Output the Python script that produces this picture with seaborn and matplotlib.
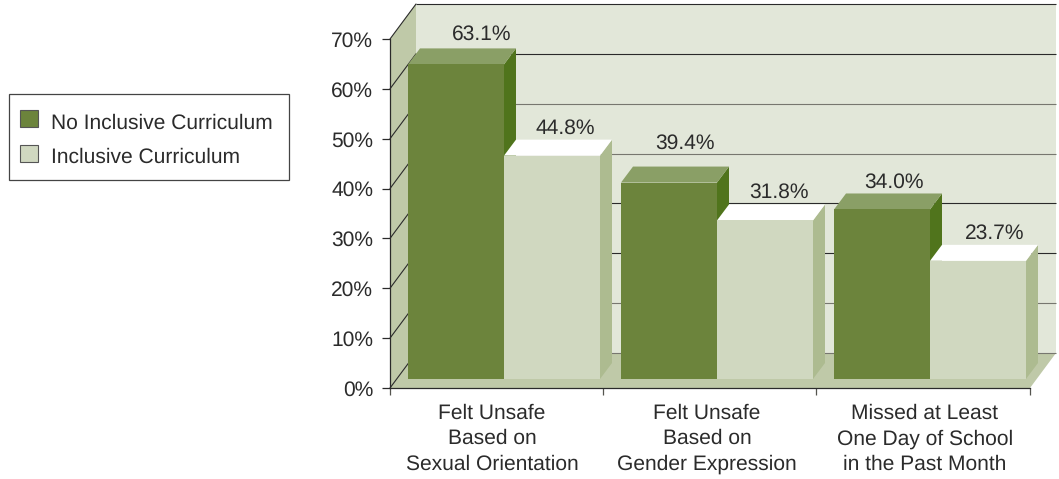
import matplotlib
matplotlib.use("Agg")
import matplotlib.pyplot as plt
from matplotlib.patches import Polygon, Rectangle
import pandas as pd
import seaborn as sns

categories = ["Felt Unsafe\nBased on\nSexual Orientation",
              "Felt Unsafe\nBased on\nGender Expression",
              "Missed at Least\nOne Day of School\nin the Past Month"]
no_inclusive = [63.1, 39.4, 34.0]
inclusive = [44.8, 31.8, 23.7]
series_names = ["No Inclusive Curriculum", "Inclusive Curriculum"]
y_ticks = [0, 10, 20, 30, 40, 50, 60, 70]

sns.set_theme(style="white")
plt.rcParams["font.family"] = ["Liberation Sans", "DejaVu Sans"]
plt.rcParams["text.hinting"] = "no_hinting"
plt.rcParams["text.hinting_factor"] = 1
TXT = "#2b2b2b"
FS = 15.4
W, H = 1059, 479
front = ["#6c843c", "#d0d8c0"]
tops = ["#8a9f66", "#ffffff"]
sides = ["#50741c", "#adbb90"]

df = pd.DataFrame({
    "category": categories * 2,
    "value": no_inclusive + inclusive,
    "series": [series_names[0]] * 3 + [series_names[1]] * 3,
})

fig = plt.figure(figsize=(W / 100, H / 100), dpi=100, facecolor="white")
ax = fig.add_axes([390 / W, 1 - 388 / H, 640 / W, 349 / H])
ax.set_facecolor("none")

px_x = 213.0
px_y = 349 / 70
lift = 9 / px_y
sns.barplot(data=df, x="category", y="value", hue="series", order=categories,
            hue_order=series_names, palette=front, width=192 / px_x,
            saturation=1, linewidth=0, ax=ax, zorder=5, legend=True)

# the drawn bars, before any decoration is added; raised onto the chart floor
bars = [p for p in ax.patches if p.get_width() > 0.3]
for b in bars:
    b.set_y(lift)

x0 = (390 - 504) / px_x
x1 = (1030 - 504) / px_x
ax.set_xlim(x0, x1)
ax.set_ylim(0, 70)

wall_dx, wall_dy = 26 / px_x, 35 / px_y
bar_dx, bar_dy = 12 / px_x, 16 / px_y

def poly(pts, color, z):
    ax.add_patch(Polygon(pts, closed=True, facecolor=color, edgecolor="none",
                         clip_on=False, zorder=z))

# walls and floor
poly([(x0, 0), (x0 + wall_dx, wall_dy), (x0 + wall_dx, 70 + wall_dy), (x0, 70)], "#bfc9a8", 1)
poly([(x0 + wall_dx, wall_dy), (x1 + wall_dx, wall_dy), (x1 + wall_dx, 70 + wall_dy),
      (x0 + wall_dx, 70 + wall_dy)], "#e2e7d9", 1)
poly([(x0, 0), (x1, 0), (x1 + wall_dx, wall_dy), (x0 + wall_dx, wall_dy)], "#bfc9a8", 1.5)

grid_cols = {0: "#77776f", 10: "#77776f", 20: "#2a2a2a", 30: "#2a2a2a",
             40: "#77776f", 50: "#77776f", 60: "#2a2a2a", 70: "#2a2a2a"}
for t in y_ticks:
    ax.plot([x0 + wall_dx, x1 + wall_dx], [t + wall_dy] * 2, color=grid_cols[t], lw=0.8,
            clip_on=False, zorder=2, solid_capstyle="butt")
    ax.plot([x0, x0 + wall_dx], [t, t + wall_dy], color="#2a2a2a", lw=0.8,
            clip_on=False, zorder=2)

# 3-D faces and value labels
nudge_x = [26, 16, 12, 13, 14, 17]
nudge_y = [9, 18, 6, 6, 7, 6]
values = no_inclusive + inclusive
for k, (b, v) in enumerate(zip(bars, values)):
    s = k // 3
    l, r = b.get_x(), b.get_x() + b.get_width()
    bot, top = b.get_y(), b.get_y() + b.get_height()
    poly([(r, bot), (r + bar_dx, bot + bar_dy), (r + bar_dx, top + bar_dy), (r, top)], sides[s], 3)
    poly([(l, top), (r, top), (r + bar_dx, top + bar_dy), (l + bar_dx, top + bar_dy)], tops[s], 3.5)
    ax.annotate(f"{v:.1f}%", xy=((l + r) / 2, top + bar_dy),
                xytext=(nudge_x[k] * 0.72, nudge_y[k] * 0.72), textcoords="offset points",
                ha="center", va="baseline", fontsize=FS, color=TXT, zorder=8,
                annotation_clip=False)

# axes
sns.despine(ax=ax, top=True, right=True)
for sp in ("left", "bottom"):
    ax.spines[sp].set_color("#2a2a2a")
    ax.spines[sp].set_linewidth(0.9)
    ax.spines[sp].set_zorder(6)
ax.set_xlabel("")
ax.set_ylabel("")
ax.set_yticks(y_ticks, [f"{t}%" for t in y_ticks])
ax.tick_params(axis="y", length=5.5, width=0.9, color="#2a2a2a", pad=6.5, labelsize=FS,
               labelcolor=TXT, left=True)
label_pos = [(492 - 504) / px_x, (707 - 504) / px_x, (925 - 504) / px_x]
ax.set_xticks(label_pos, categories, linespacing=1.4)
ax.tick_params(axis="x", which="major", length=0, pad=11, labelsize=FS, labelcolor=TXT)
ax.set_xticks([x0, x0 + 1, x0 + 2, x1], minor=True)
ax.tick_params(axis="x", which="minor", length=5, width=0.9, color="#55554f", bottom=True)

# legend: frame drawn separately so that its padding can differ per direction
fig.add_artist(Rectangle((9 / W, 1 - 180 / H), 280 / W, 86 / H, transform=fig.transFigure,
                         facecolor="white", edgecolor="#444444", linewidth=0.9, zorder=-1))
h, lab = ax.get_legend_handles_labels()
leg = ax.legend(h, lab, loc="upper left", bbox_to_anchor=(20 / W, 1 - 112.5 / H),
                bbox_transform=fig.transFigure, fontsize=FS, frameon=False,
                borderaxespad=0, borderpad=0,
                handlelength=0.85, handleheight=0.85, handletextpad=0.6, labelspacing=0.67)
for t in leg.get_texts():
    t.set_color(TXT)
for hd in leg.legend_handles:
    hd.set_edgecolor("#555555")
    hd.set_linewidth(0.8)
    hd.set_y(hd.get_y() + 1.5)

fig.savefig("out.png", dpi=100)
